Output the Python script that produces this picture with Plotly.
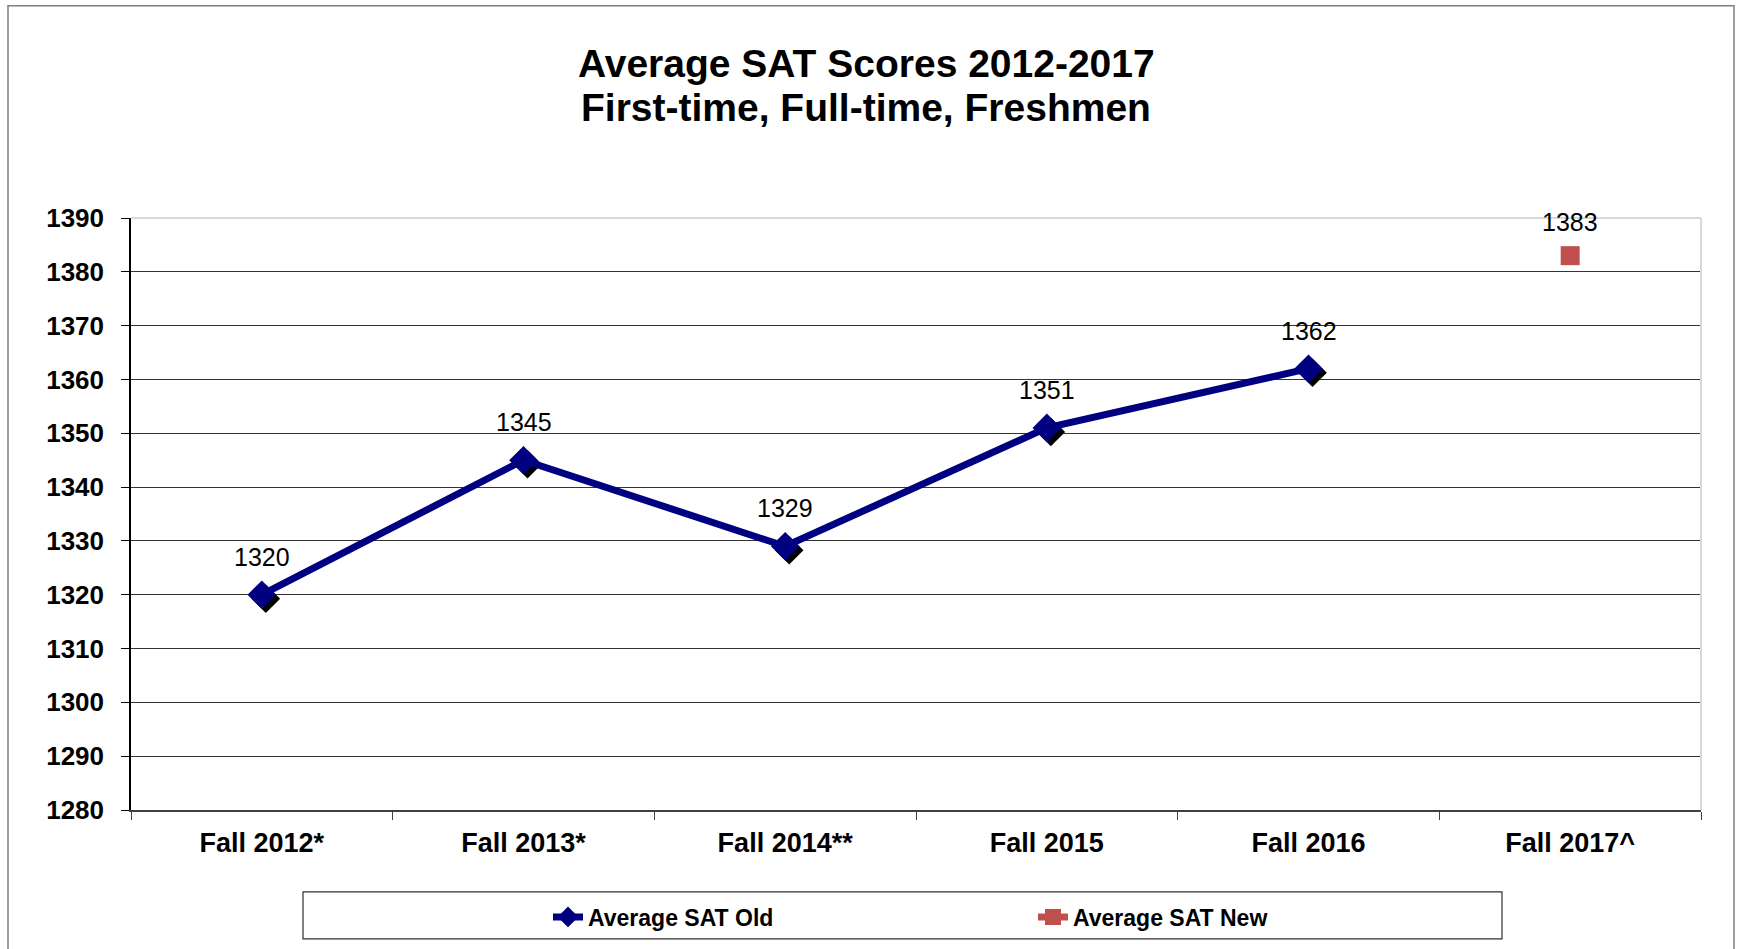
import plotly.graph_objects as go

categories = ["Fall 2012*", "Fall 2013*", "Fall 2014**", "Fall 2015", "Fall 2016", "Fall 2017^"]
sat_old_x = ["Fall 2012*", "Fall 2013*", "Fall 2014**", "Fall 2015", "Fall 2016"]
sat_old = [1320, 1345, 1329, 1351, 1362]
sat_new_x = ["Fall 2017^"]
sat_new = [1383]
y_ticks = list(range(1280, 1391, 10))

W, H = 1737, 949
L, R, T, B = 131, 1701, 218, 811
FONT = "Liberation Sans, Arial, sans-serif"


def px(x):
    return (x - L) / (R - L)


def py(y):
    return (B - y) / (B - T)


# shadow offset in pixels, converted to axis-range shifts
SDX, SDY = 4, 4
cat_px = (R - L) / len(categories)
val_px = (B - T) / (1390 - 1280)

fig = go.Figure()

fig.add_trace(go.Scatter(
    x=sat_old_x, y=sat_old, xaxis="x2", yaxis="y2", mode="markers",
    marker=dict(symbol="diamond", size=22, color="black"),
    showlegend=False, hoverinfo="skip",
))
fig.add_trace(go.Scatter(
    x=sat_old_x, y=sat_old, xaxis="x3", yaxis="y3", mode="lines+markers",
    name="Average SAT Old",
    line=dict(color="#000080", width=7),
    marker=dict(symbol="diamond", size=22, color="#000080"),
))
fig.add_trace(go.Scatter(
    x=sat_new_x, y=sat_new, xaxis="x3", yaxis="y3", mode="lines+markers",
    name="Average SAT New",
    line=dict(color="#C0504D", width=7),
    marker=dict(symbol="square", size=19, color="#C0504D"),
))

annotations = []
for c, v in zip(sat_old_x, sat_old):
    annotations.append(dict(x=c, y=v, xref="x", yref="y", text=str(v), showarrow=False,
                            yshift=38, font=dict(family=FONT, size=25, color="black")))
for c, v in zip(sat_new_x, sat_new):
    annotations.append(dict(x=c, y=v, xref="x", yref="y", text=str(v), showarrow=False,
                            yshift=34, font=dict(family=FONT, size=25, color="black")))

title_font = dict(family=FONT, size=39, color="black", weight="bold")
annotations.append(dict(x=px(866), y=py(63), xref="paper", yref="paper", xanchor="center",
                        yanchor="middle", showarrow=False, text="Average SAT Scores 2012-2017",
                        font=title_font))
annotations.append(dict(x=px(866), y=py(107), xref="paper", yref="paper", xanchor="center",
                        yanchor="middle", showarrow=False, text="First-time, Full-time, Freshmen",
                        font=title_font))

shapes = [
    # outer chart frame
    dict(type="rect", xref="paper", yref="paper", x0=px(8), x1=px(1734), y0=py(5.5), y1=py(960),
         line=dict(color="#808080", width=1.5), layer="below"),
    # legend box
    dict(type="rect", xref="paper", yref="paper", x0=px(303), x1=px(1502), y0=py(893), y1=py(940),
         line=dict(color="#303030", width=1.2), layer="below"),
    # plot area top/right light border
    dict(type="line", xref="paper", yref="paper", x0=0, x1=1, y0=1, y1=1,
         line=dict(color="#D9D9D9", width=2), layer="above"),
    dict(type="line", xref="paper", yref="paper", x0=1, x1=1, y0=0, y1=1,
         line=dict(color="#D9D9D9", width=2), layer="above"),
]

fig.update_layout(
    width=W, height=H,
    margin=dict(l=L, r=W - R, t=T, b=H - B),
    paper_bgcolor="white", plot_bgcolor="white",
    showlegend=True,
    legend=dict(orientation="h", x=px(548), y=py(917), xanchor="left", yanchor="middle",
                font=dict(family=FONT, size=23, color="black", weight="bold"),
                entrywidth=440, entrywidthmode="pixels",
                bgcolor="rgba(0,0,0,0)", borderwidth=0),
    xaxis=dict(type="category", categoryorder="array", categoryarray=categories,
               range=[-0.5, len(categories) - 0.5],
               tickson="boundaries", ticks="outside", ticklen=8, tickcolor="#404040",
               showline=True, linecolor="#404040", linewidth=1.5,
               showgrid=False, zeroline=False,
               tickfont=dict(family=FONT, size=27, color="black", weight="bold"),
               ticklabelstandoff=8),
    yaxis=dict(range=[1280, 1390], tickvals=y_ticks, ticks="outside", ticklen=8, tickcolor="black",
               showline=True, linecolor="black", linewidth=1.5,
               showgrid=True, gridcolor="#333333", gridwidth=1.2, zeroline=False,
               tickfont=dict(family=FONT, size=26, color="black", weight="bold"),
               ticklabelstandoff=12),
    xaxis2=dict(type="category", categoryorder="array", categoryarray=categories,
                overlaying="x", range=[-0.5 - SDX / cat_px, len(categories) - 0.5 - SDX / cat_px],
                visible=False),
    yaxis2=dict(overlaying="y", range=[1280 + SDY / val_px, 1390 + SDY / val_px], visible=False),
    xaxis3=dict(type="category", categoryorder="array", categoryarray=categories,
                overlaying="x", range=[-0.5, len(categories) - 0.5], visible=False),
    yaxis3=dict(overlaying="y", range=[1280, 1390], visible=False),
    annotations=annotations,
    shapes=shapes,
)

fig.write_html(
    "out.html",
    config={"displayModeBar": False},
    post_script="document.body.style.margin='0';document.body.style.overflow='hidden';",
)
